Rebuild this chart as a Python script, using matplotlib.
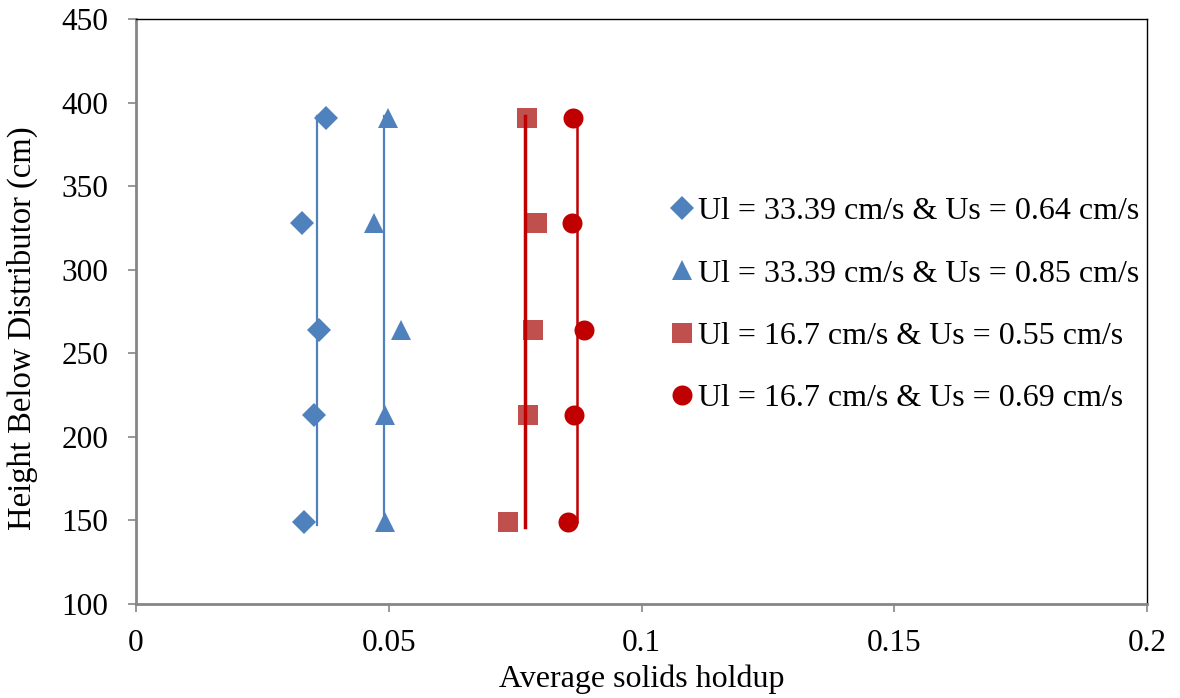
import matplotlib
matplotlib.use("Agg")
import matplotlib.pyplot as plt

plt.rcParams['font.family'] = ['Liberation Serif', 'DejaVu Serif']

heights = [391, 328, 264, 213, 149]
holdup_a = [0.0376, 0.0328, 0.0362, 0.0353, 0.0332]   # Ul=33.39, Us=0.64
holdup_b = [0.0499, 0.0471, 0.0524, 0.0493, 0.0493]   # Ul=33.39, Us=0.85
holdup_c = [0.0774, 0.0793, 0.0786, 0.0776, 0.0735]   # Ul=16.7, Us=0.55
holdup_d = [0.0865, 0.0862, 0.0887, 0.0867, 0.0855]   # Ul=16.7, Us=0.69
avg_lines = [0.0358, 0.0491, 0.0770, 0.0872]
line_top = 392
line_bottoms = [147, 149, 146, 149]
labels = ["Ul = 33.39 cm/s & Us = 0.64 cm/s",
          "Ul = 33.39 cm/s & Us = 0.85 cm/s",
          "Ul = 16.7 cm/s & Us = 0.55 cm/s",
          "Ul = 16.7 cm/s & Us = 0.69 cm/s"]
x_ticks = [0, 0.05, 0.1, 0.15, 0.2]
x_ticklabels = ["0", "0.05", "0.1", "0.15", "0.2"]
y_ticks = [100, 150, 200, 250, 300, 350, 400, 450]

blue = '#4F81BD'
sq_red = '#C0504D'
dark_red = '#C00000'

fig = plt.figure(figsize=(11.8, 6.98), dpi=100)
ax = fig.add_axes([0.1153, 0.1347, 0.972 - 0.1153, 0.9728 - 0.1347])

series = [(holdup_a, 'D', blue, 12.5), (holdup_b, '^', blue, 14.4),
          (holdup_c, 's', sq_red, 14.4), (holdup_d, 'o', dark_red, 14.4)]
handles = []
for (vals, mk, col, ms), lab in zip(series, labels):
    h, = ax.plot(vals, heights, linestyle='none', marker=mk, color=col,
                 markersize=ms, markeredgewidth=0, label=lab, zorder=3)
    handles.append(h)

line_cols = [blue, blue, dark_red, dark_red]
line_w = [1.6, 1.6, 2.5, 1.8]
for xv, yb, c, lw in zip(avg_lines, line_bottoms, line_cols, line_w):
    ax.plot([xv, xv], [yb, line_top], color=c, linewidth=lw, zorder=4)

ax.set_xlim(0, 0.2)
ax.set_ylim(100, 450)
ax.set_xticks(x_ticks)
ax.set_xticklabels(x_ticklabels)
ax.set_yticks(y_ticks)
ax.tick_params(axis='both', labelsize=22.5, direction='out', length=6,
               color='#868686', width=1.2)
ax.tick_params(axis='x', pad=12)
ax.tick_params(axis='y', pad=14)
for s in ['left', 'bottom']:
    ax.spines[s].set_color('#868686')
    ax.spines[s].set_linewidth(2)
for s in ['top', 'right']:
    ax.spines[s].set_color('black')
    ax.spines[s].set_linewidth(1)

ax.set_xlabel("Average solids holdup", fontsize=23, labelpad=5)
ax.set_ylabel("Height Below Distributor (cm)", fontsize=23.5)
ax.yaxis.set_label_coords(-0.0969, 0.472)

leg = ax.legend(handles=handles, loc='center left', bbox_to_anchor=(0.5176, 0.511),
                frameon=False, fontsize=23, handlelength=0.6, handletextpad=0.2,
                labelspacing=1.03, borderaxespad=0)

fig.savefig("out.png", dpi=100)
